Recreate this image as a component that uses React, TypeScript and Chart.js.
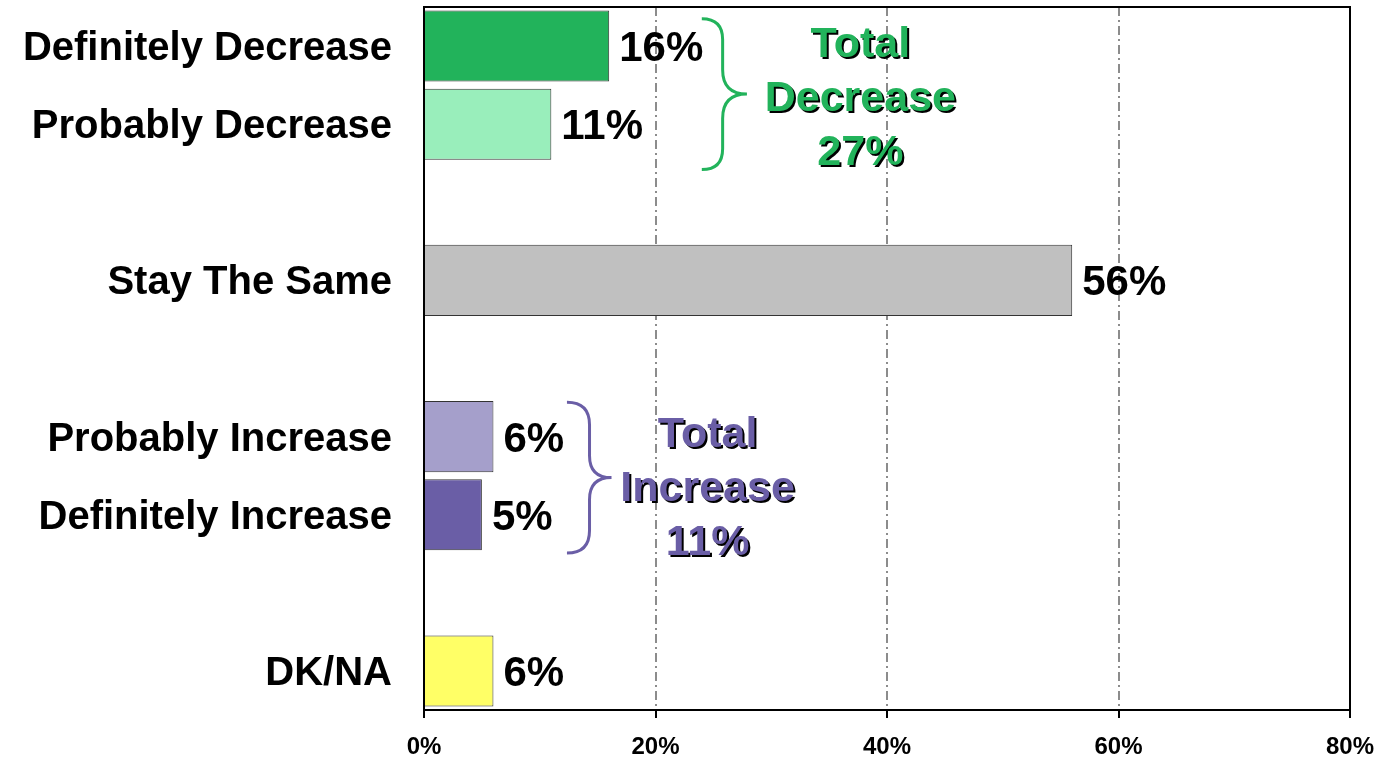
import React, { useEffect, useRef } from "react";
import { Chart, registerables } from "chart.js";

Chart.register(...registerables);

const categories = [
  "Definitely Decrease",
  "Probably Decrease",
  "",
  "Stay The Same",
  "",
  "Probably Increase",
  "Definitely Increase",
  "",
  "DK/NA",
];
const values: (number | null)[] = [16, 11, null, 56, null, 6, 5, null, 6];
const barColors = [
  "#22B35B",
  "#99EEBB",
  "#FFFFFF",
  "#C0C0C0",
  "#FFFFFF",
  "#A59FCB",
  "#6A5EA6",
  "#FFFFFF",
  "#FFFF66",
];
const xTicks = [0, 20, 40, 60, 80];
const decreaseLines = ["Total", "Decrease", "27%"];
const increaseLines = ["Total", "Increase", "11%"];
const decreaseColor = "#22B35B";
const increaseColor = "#6A5EA6";

const FONT = 'Arial, "Liberation Sans", Helvetica, sans-serif';

const groups = [
  { lines: decreaseLines, color: decreaseColor, from: -0.35, to: 1.58, braceX: 24.0, braceMid: 25.8, braceTip: 27.9, textX: 37.7, textY: 0.64 },
  { lines: increaseLines, color: increaseColor, from: 4.56, to: 6.49, braceX: 12.35, braceMid: 14.3, braceTip: 16.2, textX: 24.5, textY: 5.63 },
];

const overlayPlugin = {
  id: "overlay",
  afterDatasetsDraw(chart: any) {
    const { ctx, chartArea, scales } = chart;
    const xs = scales.x;
    const ys = scales.y;
    ctx.save();
    ctx.strokeStyle = "#000";
    ctx.lineWidth = 2;
    ctx.beginPath();
    ctx.moveTo(chartArea.left, chartArea.top);
    ctx.lineTo(chartArea.right, chartArea.top);
    ctx.lineTo(chartArea.right, chartArea.bottom);
    ctx.stroke();

    const fs = 42;
    ctx.font = `bold ${fs}px ${FONT}`;
    ctx.fillStyle = "#000";
    ctx.textAlign = "left";
    ctx.textBaseline = "alphabetic";
    values.forEach((v, i) => {
      if (v == null) return;
      const x = xs.getPixelForValue(v) + 10;
      const y = ys.getPixelForValue(i) + (fs * 0.716) / 2;
      ctx.fillText(`${v}%`, x, y);
    });

    groups.forEach((g) => {
      const x0 = xs.getPixelForValue(g.braceX);
      const xm = xs.getPixelForValue(g.braceMid);
      const xt = xs.getPixelForValue(g.braceTip);
      const yT = ys.getPixelForValue(g.from);
      const yB = ys.getPixelForValue(g.to);
      const yM = (yT + yB) / 2;
      const r = xm - x0;
      const r2 = xt - xm;
      ctx.strokeStyle = g.color;
      ctx.lineWidth = 3;
      ctx.beginPath();
      ctx.moveTo(x0, yT);
      ctx.quadraticCurveTo(xm, yT, xm, yT + r);
      ctx.lineTo(xm, yM - r2);
      ctx.quadraticCurveTo(xm, yM, xt, yM);
      ctx.quadraticCurveTo(xm, yM, xm, yM + r2);
      ctx.lineTo(xm, yB - r);
      ctx.quadraticCurveTo(xm, yB, x0, yB);
      ctx.stroke();

      const tf = 43;
      ctx.font = `bold ${tf}px ${FONT}`;
      ctx.textAlign = "center";
      ctx.textBaseline = "alphabetic";
      const cx = xs.getPixelForValue(g.textX);
      const cy = ys.getPixelForValue(g.textY);
      const lh = 54;
      g.lines.forEach((t, k) => {
        const y = cy + (k - 1) * lh + (tf * 0.716) / 2;
        ctx.fillStyle = "#000";
        ctx.fillText(t, cx + 2, y + 2);
        ctx.fillStyle = g.color;
        ctx.fillText(t, cx, y);
      });
    });
    ctx.restore();
  },
};

export default function App() {
  const ref = useRef<HTMLCanvasElement | null>(null);
  useEffect(() => {
    if (!ref.current) return;
    const chart = new Chart(ref.current, {
      type: "bar",
      data: {
        labels: categories,
        datasets: [
          {
            data: values as any,
            backgroundColor: barColors,
            borderColor: "#333333",
            borderWidth: 1,
            barPercentage: 0.91,
            categoryPercentage: 1,
          },
        ],
      },
      options: {
        indexAxis: "y",
        animation: false,
        responsive: true,
        maintainAspectRatio: false,
        layout: { padding: { top: 7, right: 30, left: 0, bottom: 0 } },
        plugins: { legend: { display: false }, tooltip: { enabled: false } },
        scales: {
          x: {
            type: "linear",
            min: 0,
            max: 80,
            afterBuildTicks: (s: any) => {
              s.ticks = xTicks.map((v) => ({ value: v }));
            },
            afterFit: (s: any) => {
              s.height = 50;
              s.paddingLeft = 0;
              s.paddingRight = 0;
            },
            ticks: {
              callback: (v: any) => `${v}%`,
              color: "#000",
              font: { family: FONT, size: 24, weight: "bold" },
              padding: 15,
              maxRotation: 0,
            },
            grid: {
              color: (c: any) =>
                c.tick && (c.tick.value === 0 || c.tick.value === 80) ? "rgba(0,0,0,0)" : "#8C8C8C",
              lineWidth: 2,
              drawTicks: true,
              tickLength: 8,
              tickColor: "#000",
              tickWidth: 2,
              tickBorderDash: [],
            },
            border: { display: true, color: "#000", width: 2, dash: [9, 4, 2, 4] },
          },
          y: {
            afterFit: (s: any) => {
              s.width = 424;
              s.paddingTop = 0;
              s.paddingBottom = 0;
            },
            ticks: {
              color: "#000",
              font: { family: FONT, size: 40, weight: "bold" },
              padding: 32,
              crossAlign: "near",
              labelOffset: 3,
            },
            grid: { display: false, drawTicks: false },
            border: { display: true, color: "#000", width: 2 },
          },
        },
      },
      plugins: [overlayPlugin],
    });
    return () => chart.destroy();
  }, []);
  return (
    <div style={{ position: "fixed", left: 0, top: 0, width: 1380, height: 760, background: "#fff" }}>
      <canvas ref={ref} />
    </div>
  );
}
